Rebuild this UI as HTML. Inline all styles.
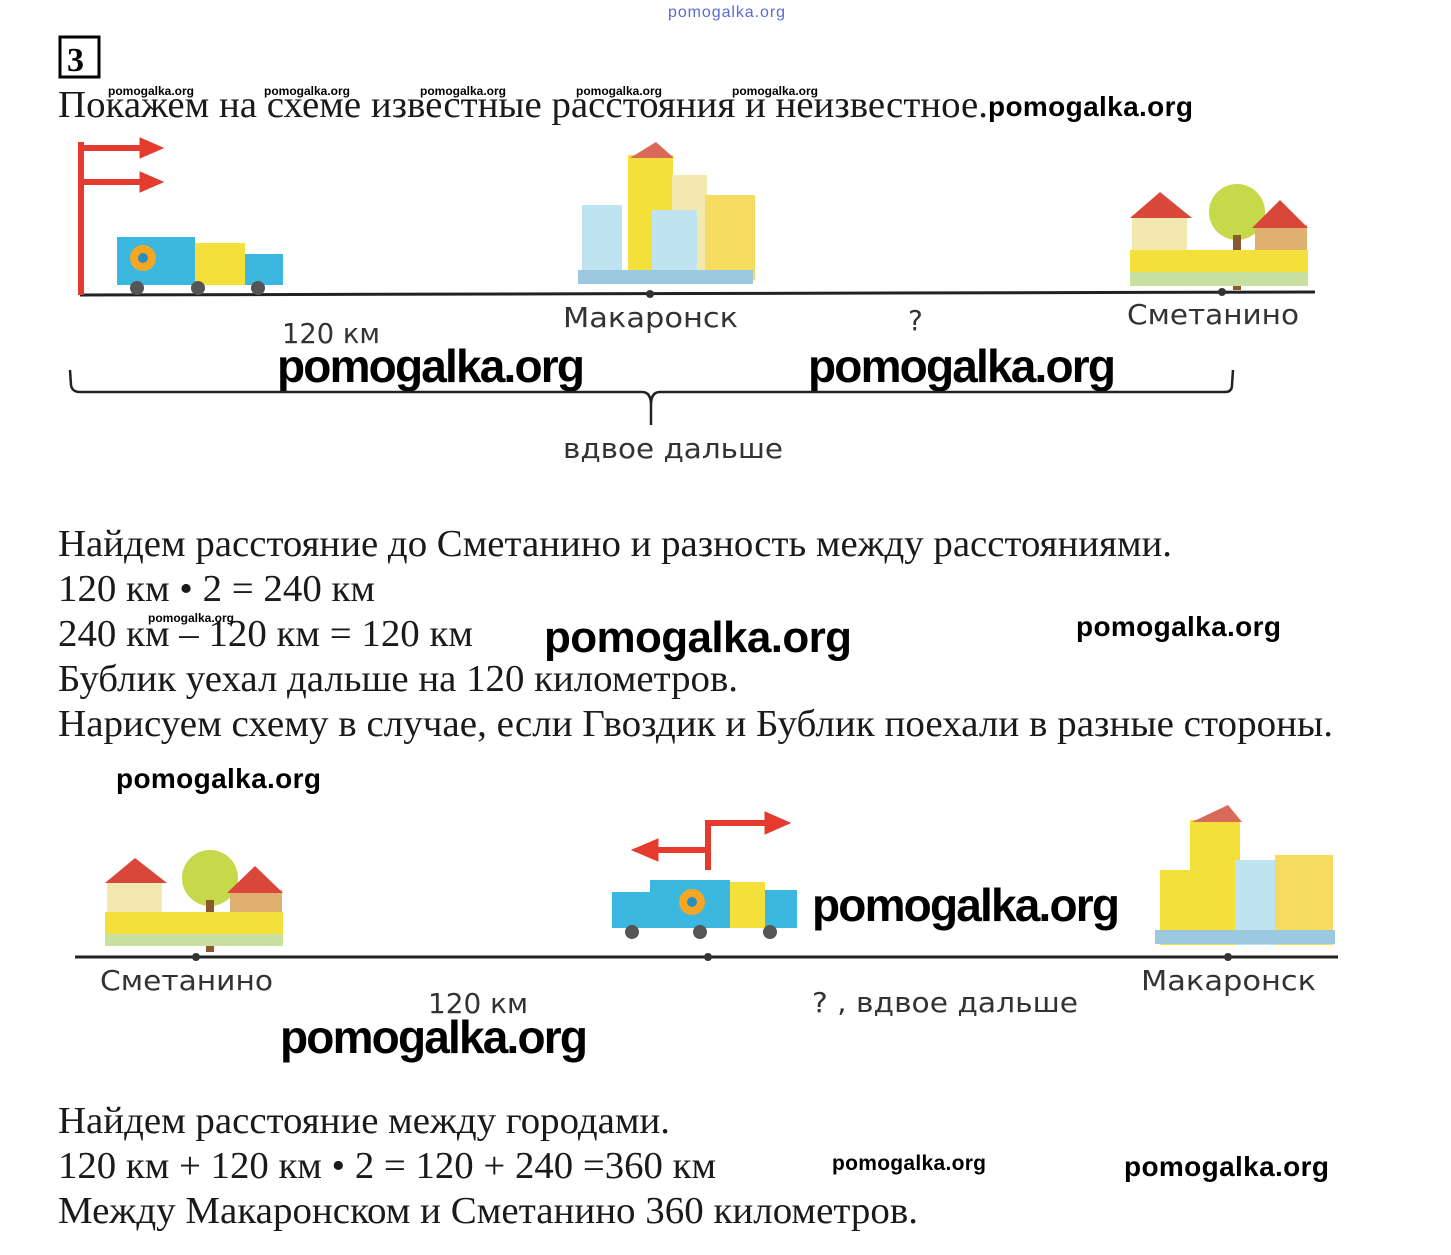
<!DOCTYPE html>
<html><head><meta charset="utf-8"><style>
html,body{margin:0;padding:0;background:#fff;}
svg{display:block;}
.s{font-family:"Liberation Serif","Noto Serif CJK SC",serif;font-size:38px;fill:#1a1a1a;}
.w{font-family:"Liberation Sans","DejaVu Sans",sans-serif;font-weight:bold;fill:#000;}
.l{font-family:"DejaVu Sans","Liberation Sans",sans-serif;font-size:28px;fill:#333;}
</style></head><body>
<svg width="1451" height="1255" viewBox="0 0 1451 1255" xmlns="http://www.w3.org/2000/svg">
<text x="668" y="17" font-family="Liberation Sans,sans-serif" font-size="16" fill="#5a6ad8" textLength="117">pomogalka.org</text>
<rect x="60" y="37" width="39" height="40" fill="none" stroke="#000" stroke-width="3"/>
<text x="67" y="71" font-family="Liberation Serif,serif" font-weight="bold" font-size="34">3</text>
<g class="w" font-size="12"><text x="108" y="95">pomogalka.org</text><text x="264" y="95">pomogalka.org</text><text x="420" y="95">pomogalka.org</text><text x="576" y="95">pomogalka.org</text><text x="732" y="95">pomogalka.org</text></g>
<text class="s" x="58" y="117" textLength="930" lengthAdjust="spacingAndGlyphs">Покажем на схеме известные расстояния и неизвестное.</text>
<text class="w" x="988" y="116" font-size="28" textLength="205">pomogalka.org</text>

<!-- diagram 1 -->
<line x1="80" y1="295" x2="1315" y2="292" stroke="#222" stroke-width="3"/>
<g fill="#e53a2e" stroke="#e53a2e"><rect x="78" y="142" width="6" height="153" stroke="none"/>
<line x1="80" y1="148" x2="150" y2="148" stroke-width="6"/><polygon points="140,138 163,148 140,158"/>
<line x1="80" y1="182" x2="150" y2="182" stroke-width="6"/><polygon points="140,172 163,182 140,192"/></g>
<g><rect x="117" y="237" width="78" height="48" fill="#3cb8e0"/><circle cx="143" cy="258" r="13" fill="#f5a623"/><circle cx="143" cy="258" r="5" fill="#2a8fc0"/>
<rect x="195" y="243" width="50" height="42" fill="#f3e03a"/><rect x="245" y="254" width="38" height="31" fill="#3cb8e0"/>
<circle cx="137" cy="288" r="7" fill="#555"/><circle cx="198" cy="288" r="7" fill="#555"/><circle cx="258" cy="288" r="7" fill="#555"/></g>
<g><rect x="582" y="205" width="40" height="75" fill="#bfe3f0"/><rect x="628" y="155" width="45" height="125" fill="#f3e03a"/><polygon points="630,158 656,142 674,158" fill="#d96a5a"/>
<rect x="672" y="175" width="35" height="105" fill="#f3e9b0"/><rect x="652" y="210" width="45" height="72" fill="#bfe3f0"/><rect x="705" y="195" width="50" height="85" fill="#f5dc60"/>
<rect x="578" y="270" width="175" height="14" fill="#9cc9e0"/></g>
<circle cx="650" cy="294" r="4" fill="#333"/>
<g><rect x="1132" y="215" width="55" height="55" fill="#f3e9b0"/><polygon points="1130,218 1160,192 1192,218" fill="#d9463a"/>
<circle cx="1237" cy="212" r="28" fill="#c5d94a"/><rect x="1233" y="235" width="8" height="55" fill="#8a5a2a"/>
<rect x="1255" y="225" width="52" height="45" fill="#e0b070"/><polygon points="1252,228 1280,200 1308,228" fill="#d9463a"/>
<rect x="1130" y="250" width="178" height="22" fill="#f3e03a"/><rect x="1130" y="272" width="178" height="14" fill="#c8e0a0"/></g>
<circle cx="1222" cy="292" r="4" fill="#333"/>
<text class="l" x="282" y="343" textLength="98" lengthAdjust="spacingAndGlyphs">120 км</text>
<text class="l" x="563" y="327" textLength="175" lengthAdjust="spacingAndGlyphs">Макаронск</text>
<text class="l" x="908" y="330">?</text>
<text class="l" x="1127" y="324" textLength="172" lengthAdjust="spacingAndGlyphs">Сметанино</text>
<text class="w" x="277" y="382" font-size="46" textLength="308">pomogalka.org</text>
<text class="w" x="808" y="382" font-size="46" textLength="308">pomogalka.org</text>
<path d="M70,370 L71,385 Q72,392 80,392 L642,392 Q651,392 651,405 L651,425 M651,405 Q651,392 660,392 L1225,392 Q1232,392 1232,385 L1233,370" fill="none" stroke="#222" stroke-width="2.5"/>
<text class="l" x="563" y="458" textLength="220" lengthAdjust="spacingAndGlyphs">вдвое дальше</text>

<text class="s" x="58" y="556" textLength="1114" lengthAdjust="spacingAndGlyphs">Найдем расстояние до Сметанино и разность между расстояниями.</text>
<text class="s" x="58" y="601" textLength="317" lengthAdjust="spacingAndGlyphs">120 км • 2 = 240 км</text>
<text class="s" x="58" y="646" textLength="415" lengthAdjust="spacingAndGlyphs">240 км – 120 км = 120 км</text>
<text class="s" x="58" y="691" textLength="680" lengthAdjust="spacingAndGlyphs">Бублик уехал дальше на 120 километров.</text>
<text class="s" x="58" y="736" textLength="1275" lengthAdjust="spacingAndGlyphs">Нарисуем схему в случае, если Гвоздик и Бублик поехали в разные стороны.</text>
<text class="w" x="148" y="622" font-size="12">pomogalka.org</text>
<text class="w" x="544" y="652" font-size="44" textLength="308">pomogalka.org</text>
<text class="w" x="1076" y="636" font-size="28" textLength="205">pomogalka.org</text>
<text class="w" x="116" y="788" font-size="28" textLength="205">pomogalka.org</text>

<!-- diagram 2 -->
<line x1="75" y1="957" x2="1338" y2="957" stroke="#222" stroke-width="3"/>
<g><rect x="107" y="880" width="55" height="55" fill="#f3e9b0"/><polygon points="105,883 135,858 167,883" fill="#d9463a"/>
<circle cx="210" cy="878" r="28" fill="#c5d94a"/><rect x="206" y="900" width="8" height="52" fill="#8a5a2a"/>
<rect x="230" y="890" width="52" height="45" fill="#e0b070"/><polygon points="227,893 255,866 283,893" fill="#d9463a"/>
<rect x="105" y="912" width="178" height="22" fill="#f3e03a"/><rect x="105" y="934" width="178" height="12" fill="#c8e0a0"/></g>
<circle cx="196" cy="957" r="4" fill="#333"/>
<g><rect x="612" y="892" width="40" height="36" fill="#3cb8e0"/><rect x="650" y="880" width="80" height="48" fill="#3cb8e0"/><circle cx="692" cy="902" r="13" fill="#f5a623"/><circle cx="692" cy="902" r="5" fill="#2a8fc0"/>
<rect x="730" y="882" width="35" height="46" fill="#f3e03a"/><rect x="765" y="890" width="32" height="38" fill="#3cb8e0"/>
<circle cx="632" cy="932" r="7" fill="#555"/><circle cx="700" cy="932" r="7" fill="#555"/><circle cx="770" cy="932" r="7" fill="#555"/></g>
<circle cx="708" cy="957" r="4" fill="#333"/>
<g fill="#e53a2e" stroke="#e53a2e"><rect x="705" y="820" width="6" height="50" stroke="none"/>
<line x1="708" y1="823" x2="775" y2="823" stroke-width="6"/><polygon points="765,812 790,823 765,834"/>
<line x1="708" y1="850" x2="648" y2="850" stroke-width="6"/><polygon points="658,839 632,850 658,861"/></g>
<g><rect x="1160" y="870" width="40" height="75" fill="#f3e03a"/><rect x="1190" y="820" width="50" height="125" fill="#f3e03a"/><polygon points="1192,822 1228,805 1242,822" fill="#d96a5a"/>
<rect x="1235" y="860" width="40" height="85" fill="#bfe3f0"/><rect x="1275" y="855" width="58" height="90" fill="#f5dc60"/>
<rect x="1155" y="930" width="180" height="14" fill="#9cc9e0"/></g>
<circle cx="1228" cy="957" r="4" fill="#333"/>
<text class="l" x="100" y="990" textLength="173" lengthAdjust="spacingAndGlyphs">Сметанино</text>
<text class="l" x="428" y="1013" textLength="100" lengthAdjust="spacingAndGlyphs">120 км</text>
<text class="l" x="812" y="1012" textLength="266" lengthAdjust="spacingAndGlyphs">? , вдвое дальше</text>
<text class="l" x="1141" y="990" textLength="175" lengthAdjust="spacingAndGlyphs">Макаронск</text>
<text class="w" x="812" y="921" font-size="46" textLength="308">pomogalka.org</text>
<text class="w" x="280" y="1053" font-size="46" textLength="308">pomogalka.org</text>

<text class="s" x="58" y="1133" textLength="612" lengthAdjust="spacingAndGlyphs">Найдем расстояние между городами.</text>
<text class="s" x="58" y="1178" textLength="658" lengthAdjust="spacingAndGlyphs">120 км + 120 км • 2 = 120 + 240 =360 км</text>
<text class="s" x="58" y="1223" textLength="860" lengthAdjust="spacingAndGlyphs">Между Макаронском и Сметанино 360 километров.</text>
<text class="w" x="832" y="1170" font-size="21" textLength="154">pomogalka.org</text>
<text class="w" x="1124" y="1176" font-size="28" textLength="205">pomogalka.org</text>
</svg>
</body></html>
